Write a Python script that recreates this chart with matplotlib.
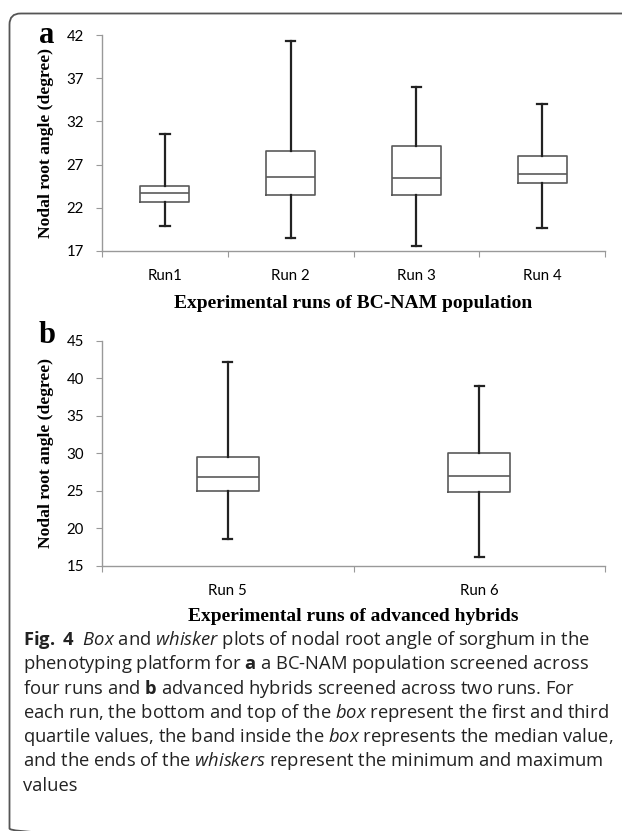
import matplotlib
matplotlib.use('Agg')
import matplotlib.pyplot as plt
from matplotlib.patches import FancyBboxPatch

plt.rcParams['mathtext.fontset'] = 'custom'
plt.rcParams['mathtext.rm'] = 'Open Sans'
plt.rcParams['mathtext.it'] = 'Open Sans:italic'
plt.rcParams['mathtext.bf'] = 'Open Sans:bold'

# values (degrees)
runs_a = ['Run1', 'Run 2', 'Run 3', 'Run 4']
min_a = [19.9, 18.5, 17.6, 19.6]
q1_a = [22.6, 23.5, 23.5, 24.8]
med_a = [23.7, 25.5, 25.4, 25.9]
q3_a = [24.5, 28.6, 29.1, 28.0]
max_a = [30.5, 41.3, 36.0, 34.0]

runs_b = ['Run 5', 'Run 6']
min_b = [18.6, 16.1]
q1_b = [24.9, 24.8]
med_b = [26.8, 27.0]
q3_b = [29.5, 30.0]
max_b = [42.1, 39.0]

caption = [
    r'$\mathbf{Fig.\ 4}$  $\mathit{Box}$ and $\mathit{whisker}$ plots of nodal root angle of sorghum in the',
    r'phenotyping platform for $\mathbf{a}$ a BC-NAM population screened across',
    r'four runs and $\mathbf{b}$ advanced hybrids screened across two runs. For',
    r'each run, the bottom and top of the $\mathit{box}$ represent the first and third',
    r'quartile values, the band inside the $\mathit{box}$ represents the median value,',
    r'and the ends of the $\mathit{whiskers}$ represent the minimum and maximum',
    'values',
]

W, H = 622, 831
fig = plt.figure(figsize=(W / 100, H / 100), dpi=100)

# overlay in pixel coordinates for frame, letters and caption
ov = fig.add_axes([0, 0, 1, 1])
ov.set_xlim(0, W)
ov.set_ylim(H, 0)
ov.axis('off')
ov.add_patch(FancyBboxPatch((9.5, 13.5), 720, 826, boxstyle='round,pad=0,rounding_size=11',
                            fill=False, ec='#555555', lw=1.3, clip_on=False))

serif = 'Liberation Serif'
tickfont = 'Lato'
box_col = '#5a5a5a'
wh_col = '#222222'


def make_stats(mins, q1s, meds, q3s, maxs):
    return [dict(whislo=a, q1=b, med=c, q3=d, whishi=e)
            for a, b, c, d, e in zip(mins, q1s, meds, q3s, maxs)]


def panel(rect, runs, stats, ylim, yticks, width, capw, xlabel, xlab_y):
    ax = fig.add_axes(rect)
    pos = list(range(1, len(runs) + 1))
    ax.bxp(stats, positions=pos, widths=width, capwidths=capw, showfliers=False,
           boxprops=dict(color=box_col, lw=1.2),
           medianprops=dict(color=box_col, lw=1.2),
           whiskerprops=dict(color=wh_col, lw=1.6),
           capprops=dict(color=wh_col, lw=1.6))
    ax.set_xlim(0.5, len(runs) + 0.5)
    ax.set_ylim(*ylim)
    ax.set_yticks(yticks)
    ax.set_xticks([p - 0.5 for p in pos] + [len(runs) + 0.5])
    ax.set_xticklabels([])
    ax.set_xticks(pos, minor=True)
    ax.set_xticklabels(runs, minor=True, fontfamily=tickfont, fontsize=10.8)
    ax.tick_params(axis='x', which='minor', length=0, pad=13)
    ax.tick_params(axis='x', which='major', length=4, color='#999999')
    ax.tick_params(axis='y', length=4, color='#999999', pad=9)
    for lab in ax.get_yticklabels():
        lab.set_fontfamily(tickfont)
        lab.set_fontsize(10.8)
    for s in ['top', 'right']:
        ax.spines[s].set_visible(False)
    for s in ['left', 'bottom']:
        ax.spines[s].set_color('#999999')
        ax.spines[s].set_linewidth(1.0)
    ax.set_ylabel('Nodal root angle (degree)', family=serif, weight='bold', fontsize=12.6,
                  va='center')
    ax.yaxis.set_label_coords(-0.112, 0.5)
    ax.set_xlabel(xlabel, family=serif, weight='bold', fontsize=14.0, va='center')
    ax.xaxis.set_label_coords(0.5, xlab_y)
    return ax


panel([102 / W, 1 - 250.7 / H, 503 / W, 215.4 / H], runs_a,
      make_stats(min_a, q1_a, med_a, q3_a, max_a), (17, 42), range(17, 43, 5),
      0.39, 0.075, 'Experimental runs of BC-NAM population', -0.245)
panel([102 / W, 1 - 565.7 / H, 503 / W, 225 / H], runs_b,
      make_stats(min_b, q1_b, med_b, q3_b, max_b), (15, 45), range(15, 46, 5),
      0.247, 0.037, 'Experimental runs of advanced hybrids', -0.225)

ov.text(46.5, 43, 'a', family=serif, weight='bold', fontsize=22, ha='center', va='baseline')
ov.text(47.5, 343, 'b', family=serif, weight='bold', fontsize=22, ha='center', va='baseline')

for i, line in enumerate(caption):
    ov.text(23, 645 + i * 24.3, line, family='Open Sans', fontsize=13.2, ha='left',
            va='baseline', color='#222222')

fig.savefig('out.png', dpi=100)
